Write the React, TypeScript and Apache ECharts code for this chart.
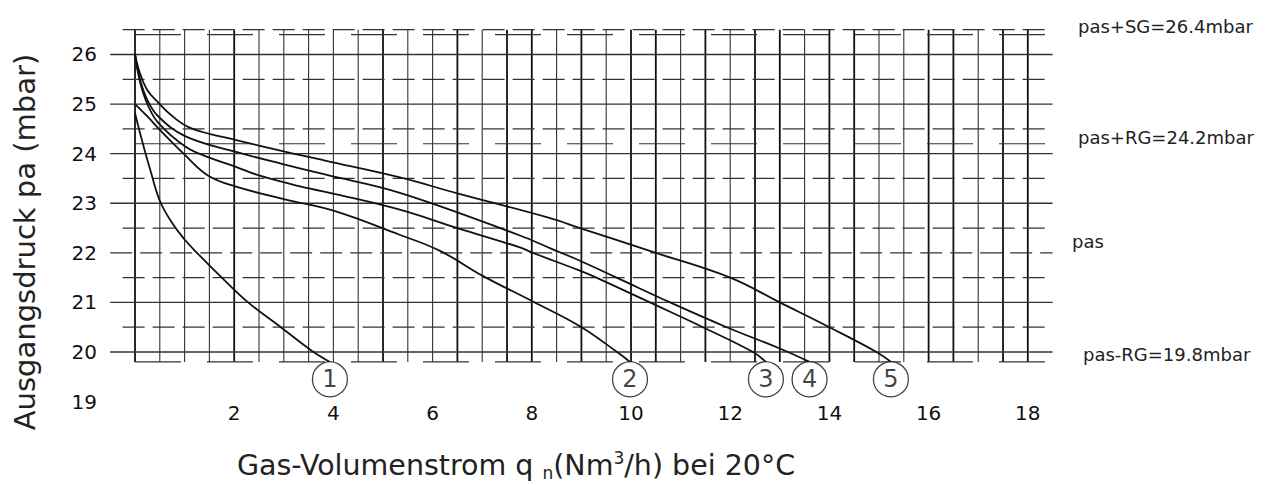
import React, { useEffect, useRef } from "react";
import * as echarts from "echarts";

// ---- data ----
const curve1 = [[0, 24.82], [0.1, 24.42], [0.2, 24.05], [0.3, 23.7], [0.5, 23.05], [0.75, 22.6], [1.0, 22.27], [1.25, 22.0], [1.75, 21.5], [2.28, 21.0], [2.94, 20.5], [3.57, 20.02], [3.93, 19.8]];
const curve2 = [[0, 25.0], [0.25, 24.75], [0.5, 24.48], [1.0, 23.98], [1.47, 23.56], [2.02, 23.34], [3.02, 23.08], [4.0, 22.85], [5.32, 22.37], [6.15, 22.04], [7.02, 21.53], [8.02, 21.02], [8.97, 20.52], [9.72, 20.0], [9.98, 19.8]];
const curve3 = [[0, 26.0], [0.1, 25.45], [0.25, 25.0], [0.47, 24.62], [1.02, 24.14], [1.5, 23.92], [2.02, 23.74], [2.5, 23.56], [3.33, 23.34], [4.2, 23.15], [5.34, 22.87], [6.5, 22.5], [7.76, 22.11], [8.02, 22.0], [8.97, 21.64], [9.3, 21.5], [10.38, 21.0], [11.45, 20.5], [12.46, 20.0], [12.72, 19.8]];
const curve4 = [[0, 26.0], [0.1, 25.5], [0.25, 25.08], [0.47, 24.75], [1.02, 24.35], [2.02, 24.04], [3.02, 23.78], [3.83, 23.58], [5.34, 23.21], [7.76, 22.35], [8.4, 22.08], [8.97, 21.84], [9.71, 21.5], [10.79, 21.0], [11.93, 20.5], [13.0, 20.07], [13.6, 19.8]];
const curve5 = [[0, 26.0], [0.1, 25.62], [0.25, 25.28], [0.47, 25.03], [0.75, 24.76], [1.07, 24.54], [1.5, 24.4], [2.02, 24.28], [3.02, 24.04], [3.83, 23.86], [5.34, 23.52], [6.5, 23.2], [8.37, 22.7], [8.97, 22.5], [10.5, 22.0], [12.0, 21.5], [13.0, 21.0], [14.0, 20.5], [14.95, 20.0], [15.24, 19.8]];
const curves = [curve1, curve2, curve3, curve4, curve5];
const curveLabels = ["1", "2", "3", "4", "5"];

const yTickLabels = ["19", "20", "21", "22", "23", "24", "25", "26"];
const xTickLabels = ["2", "4", "6", "8", "10", "12", "14", "16", "18"];

const solidLevels = [20, 21, 23, 24, 25, 26];
const dashedLevels = [20.5, 21.5, 22, 22.5, 23.5, 24.5, 25.5, 26.5];
const refLevels = [26.4, 24.2, 19.8];
const refLabels = ["pas+SG=26.4mbar", "pas+RG=24.2mbar", "pas", "pas-RG=19.8mbar"];

const yTitle = "Ausgangsdruck pa (mbar)";
const xTitleRich = "Gas-Volumenstrom q {sub|n}(Nm{sup|3}/h) bei 20°C";

// ---- styling helpers (not data) ----
const FONT = "'DejaVu Sans', sans-serif";
const thickVerticals = [0, 2, 5, 6.5, 7.5, 8, 9, 10, 10.5, 11.5, 12.5, 13, 14, 14.5, 16, 16.5, 17.5, 18];
const lineStyles = [
  { color: "#111", width: 1.8, dash: null }, // 0 thick vertical
  { color: "#333", width: 1.1, dash: null }, // 1 thin vertical
  { color: "#333", width: 1.3, dash: null }, // 2 solid horizontal
  { color: "#333", width: 1.3, dash: [22, 8] }, // 3 dashed horizontal
  { color: "#333", width: 1.2, dash: [46, 26] }, // 4 long dash reference
];

export default function App() {
  const ref = useRef<HTMLDivElement>(null);
  useEffect(() => {
    const chart = echarts.init(ref.current!, null, { renderer: "svg" });

    const gridSegs: number[][] = [];
    for (let i = 0; i <= 36; i++) {
      const v = i * 0.5;
      gridSegs.push([v, 19.8, v, 26.5, thickVerticals.includes(v) ? 0 : 1]);
    }
    solidLevels.forEach((y) => gridSegs.push([-0.5, y, 18.5, y, 2]));
    dashedLevels.forEach((y) => gridSegs.push([y === 22 ? -0.5 : -0.25, y, 18.5, y, 3]));
    refLevels.forEach((y) => gridSegs.push([0, y, 18.8, y, 4]));

    const curveSeries = curves.map((c, i) => ({
      type: "line",
      name: curveLabels[i],
      data: c,
      smooth: 0.4,
      showSymbol: false,
      symbol: "none",
      lineStyle: { color: "#111", width: 1.8 },
      z: 5,
    }));

    const option = {
      animation: false,
      backgroundColor: "#fff",
      grid: { left: 135, right: 219.4, top: 29.7, bottom: 83.4, containLabel: false },
      xAxis: {
        type: "value",
        min: 0,
        max: 18.5,
        interval: 2,
        axisLine: { show: false },
        axisTick: { show: false },
        splitLine: { show: false },
        axisLabel: {
          margin: 1,
          fontSize: 20,
          fontFamily: FONT,
          color: "#111",
          formatter: (v: number) => (xTickLabels.includes(String(v)) ? String(v) : ""),
        },
      },
      yAxis: {
        type: "value",
        min: 19,
        max: 26.5,
        interval: 1,
        axisLine: { show: false },
        axisTick: { show: false },
        splitLine: { show: false },
        axisLabel: {
          margin: 38,
          fontSize: 20,
          fontFamily: FONT,
          color: "#111",
          formatter: (v: number) => (yTickLabels.includes(String(v)) ? String(v) : ""),
        },
      },
      series: [
        {
          type: "custom",
          clip: false,
          silent: true,
          z: 1,
          data: gridSegs,
          renderItem: (params: any, api: any) => {
            const p1 = api.coord([api.value(0), api.value(1)]);
            const p2 = api.coord([api.value(2), api.value(3)]);
            const s = lineStyles[api.value(4)];
            return {
              type: "line",
              shape: { x1: p1[0], y1: p1[1], x2: p2[0], y2: p2[1] },
              style: { stroke: s.color, lineWidth: s.width, lineDash: s.dash || undefined, fill: null },
            };
          },
        },
        ...curveSeries,
        {
          type: "scatter",
          z: 6,
          symbol: "circle",
          symbolSize: 35,
          data: curves.map((c, i) => ({ value: [c[c.length - 1][0], 19.45], name: curveLabels[i] })),
          itemStyle: { color: "#fff", borderColor: "#111", borderWidth: 1.3 },
          label: {
            show: true,
            position: "inside",
            formatter: (p: any) => p.name,
            fontSize: 24,
            fontFamily: FONT,
            color: "#111",
          },
        },
      ],
      graphic: [
        {
          type: "text",
          x: 25,
          y: 242,
          rotation: Math.PI / 2,
          style: {
            text: yTitle,
            fontSize: 29,
            fontFamily: FONT,
            fill: "#222",
            align: "center",
            verticalAlign: "middle",
          },
        },
        {
          type: "text",
          x: 516,
          y: 465,
          style: {
            text: xTitleRich,
            fontSize: 28.5,
            fontFamily: FONT,
            fill: "#222",
            align: "center",
            verticalAlign: "middle",
            rich: {
              sub: { fontSize: 17, fontFamily: FONT, fill: "#222", verticalAlign: "bottom", lineHeight: 32 },
              sup: { fontSize: 17, fontFamily: FONT, fill: "#222", verticalAlign: "top", lineHeight: 32 },
            },
          },
        },
        { type: "text", x: 1078, y: 26, style: { text: refLabels[0], fontSize: 18, fontFamily: FONT, fill: "#222", verticalAlign: "middle" } },
        { type: "text", x: 1078, y: 137, style: { text: refLabels[1], fontSize: 18, fontFamily: FONT, fill: "#222", verticalAlign: "middle" } },
        { type: "text", x: 1072, y: 241, style: { text: refLabels[2], fontSize: 18, fontFamily: FONT, fill: "#222", verticalAlign: "middle" } },
        { type: "text", x: 1083, y: 354, style: { text: refLabels[3], fontSize: 18, fontFamily: FONT, fill: "#222", verticalAlign: "middle" } },
      ],
    };

    chart.setOption(option as any);
    return () => chart.dispose();
  }, []);

  return (
    <div
      ref={ref}
      style={{ position: "fixed", left: 0, top: 0, width: 1272, height: 485, background: "#fff" }}
    />
  );
}
